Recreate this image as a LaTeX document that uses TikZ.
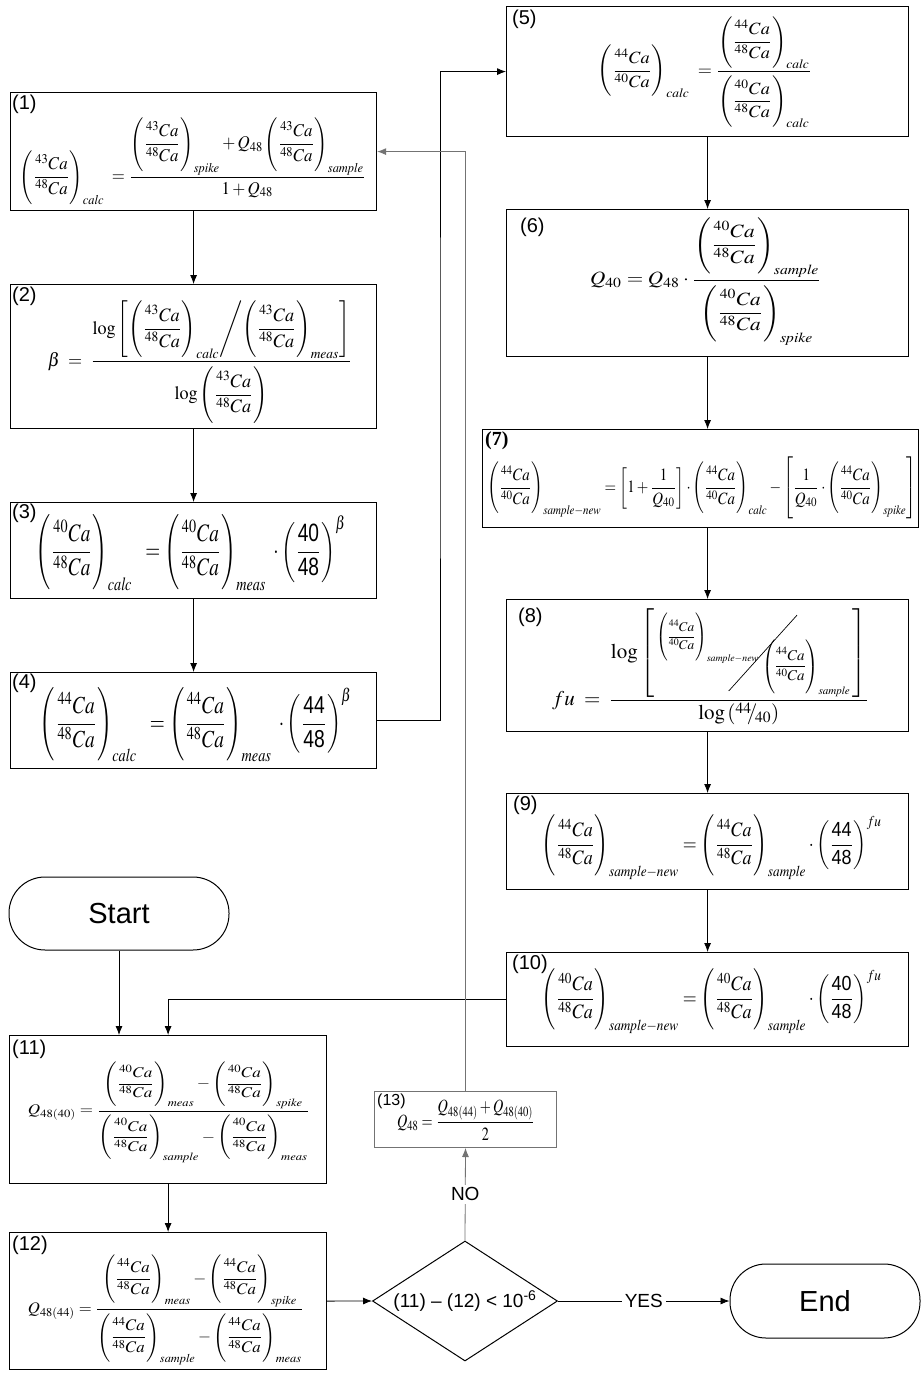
\RequirePackage{fix-cm}
\documentclass[tikz,border=0pt]{standalone}
\usepackage{amsmath,amssymb,graphicx}
\usepackage{mathptmx}
\usepackage[no-math]{fontspec}
\setmainfont{Liberation Sans}
\newfontfamily\serifl{Liberation Serif}
\usetikzlibrary{shapes.geometric,arrows.meta}
\newcommand\rat[2]{\left(\dfrac{\rule{0pt}{2.3ex}{}^{#1}Ca}{{}^{#2}Ca\rule[-0.6ex]{0pt}{0pt}}\right)}
\newcommand\Ra[3]{\rat{#1}{#2}_{\mathit{#3}}}
\newcommand\snew{\mathit{sample}{-}\mathit{new}}
\newcommand\fm[3]{\resizebox*{#1pt}{#2pt}{$\displaystyle #3$}}
\tikzset{
  box/.style={draw=black, line width=1.2pt, anchor=north west, inner sep=0pt},
  gbox/.style={box, draw=black!55, line width=1pt},
  num/.style={anchor=north west, inner sep=0pt, font=\fontsize{20}{22}\selectfont},
  fml/.style={inner sep=0pt},
  arr/.style={-{Latex[length=9pt,width=7pt]}, line width=0.8pt},
  garr/.style={arr, draw=black!55},
  term/.style={draw, line width=1pt, rounded corners=36pt, font=\fontsize{29}{32}\selectfont},
  lbl/.style={fill=white, inner sep=3pt, font=\fontsize{19}{22}\selectfont},
}
\begin{document}
\begin{tikzpicture}[x=1pt,y=-1pt]
\useasboundingbox (0,0) rectangle (923,1375);
\fill[white] (0,0) rectangle (923,1375);
% boxes
\node[box, minimum width=366pt, minimum height=118pt] (b1) at (10,92) {};
\node[box, minimum width=366pt, minimum height=144pt] (b2) at (10,284) {};
\node[box, minimum width=366pt, minimum height=96pt] (b3) at (10,502) {};
\node[box, minimum width=366pt, minimum height=96pt] (b4) at (10,672) {};
\node[box, minimum width=402pt, minimum height=130pt] (b5) at (506,6) {};
\node[box, minimum width=402pt, minimum height=147pt] (b6) at (506,209) {};
\node[box, minimum width=436pt, minimum height=98pt] (b7) at (482,429) {};
\node[box, minimum width=402pt, minimum height=132pt] (b8) at (506,599) {};
\node[box, minimum width=402pt, minimum height=96pt] (b9) at (506,793) {};
\node[box, minimum width=402pt, minimum height=94pt] (b10) at (506,952) {};
\node[box, minimum width=317pt, minimum height=148pt] (b11) at (9,1035) {};
\node[box, minimum width=317pt, minimum height=137pt] (b12) at (9,1232) {};
\node[gbox, minimum width=182pt, minimum height=56pt] (b13) at (374,1091) {};
\node[term, minimum width=220pt, minimum height=73pt] (start) at (119,913.5) {Start};
\node[term, minimum width=190pt, minimum height=74pt] (end) at (825,1301) {End};
\node[draw, diamond, line width=1pt, minimum width=185pt, minimum height=120pt, inner sep=0pt] (dia) at (465,1301) {};
\node[font=\fontsize{19}{22}\selectfont, inner sep=0pt] (dtx) at (dia.center) {(11) – (12) < 10\textsuperscript{-6}};
% labels
\node[num] (l1) at (12,95) {(1)};
\node[num] (l2) at (12,287) {(2)};
\node[num] (l3) at (12,504) {(3)};
\node[num] (l4) at (12,674) {(4)};
\node[num] (l5) at (512,10) {(5)};
\node[num] (l6) at (520,218) {(6)};
\node[num, font=\fontsize{20}{22}\serifl\bfseries] (l7) at (485,431) {(7)};
\node[num] (l8) at (518,608) {(8)};
\node[num] (l9) at (513,796) {(9)};
\node[num] (l10) at (512,955) {(10)};
\node[num] (l11) at (12,1040) {(11)};
\node[num] (l12) at (12,1236) {(12)};
\node[num, font=\fontsize{16}{18}\selectfont] (l13) at (377,1094) {(13)};
% formulas
\node[fml] (f1) at (193,160) {\fm{346}{90}{\Ra{43}{48}{calc}\;=\dfrac{\Ra{43}{48}{spike}+Q_{48}\Ra{43}{48}{sample}}{1+Q_{48}}}};
\node[fml] (f2) at (200,361) {\fm{304}{125}{\beta\;=\;\dfrac{\log\left[\Ra{43}{48}{calc}\middle/\Ra{43}{48}{meas}\right]}{\log\rat{43}{48}}}};
\node[fml] (f3) at (191,551) {\fm{310}{80}{\Ra{40}{48}{calc}\;\;=\Ra{40}{48}{meas}\;\cdot\left(\dfrac{\text{40}}{\text{48}}\right)^{\beta}}};
\node[fml] (f4) at (196,723) {\fm{312}{78}{\Ra{44}{48}{calc}\;\;=\Ra{44}{48}{meas}\;\cdot\left(\dfrac{\text{44}}{\text{48}}\right)^{\beta}}};
\node[fml] (f5) at (705,71) {\fm{214}{114}{\Ra{44}{40}{calc}\;=\dfrac{\Ra{44}{48}{calc}}{\Ra{40}{48}{calc}}}};
\node[fml] (f6) at (706,280) {\fm{232}{130}{Q_{40}=Q_{48}\cdot\dfrac{\Ra{40}{48}{sample}}{\Ra{40}{48}{spike}}}};
\node[fml] (f7) at (702,488) {\fm{429}{62}{\rat{44}{40}_{\snew}=\left[1+\dfrac{1}{Q_{40}}\right]\cdot\Ra{44}{40}{calc}-\left[\dfrac{1}{Q_{40}}\cdot\Ra{44}{40}{spike}\right]}};
\node[fml, font=\fontsize{21}{25}\selectfont] (f8) at (710,667) {$\displaystyle fu\;=\;\dfrac{\log\left[\,\raisebox{15pt}{$\vcenter{\hbox{\resizebox{102pt}{!}{$\displaystyle\rat{44}{40}_{\snew}$}}}$}\hspace{-30pt}\vcenter{\hbox{\rotatebox{48}{\rule{102pt}{0.7pt}}}}\hspace{-35pt}\raisebox{-15pt}{$\vcenter{\hbox{\resizebox{88pt}{!}{$\displaystyle\Ra{44}{40}{sample}$}}}$}\,\right]}{\log\left({}^{44}\!\!/\!{}_{40}\right)}$};
\node[fml] (f9) at (712,846) {\fm{340}{68}{\rat{44}{48}_{\snew}=\Ra{44}{48}{sample}\cdot\left(\dfrac{\text{44}}{\text{48}}\right)^{fu}}};
\node[fml] (f10) at (712,1000) {\fm{340}{68}{\rat{40}{48}_{\snew}=\Ra{40}{48}{sample}\cdot\left(\dfrac{\text{40}}{\text{48}}\right)^{fu}}};
\node[fml] (f11) at (169,1111) {\fm{282}{103}{Q_{48(40)}=\dfrac{\Ra{40}{48}{meas}-\Ra{40}{48}{spike}}{\Ra{40}{48}{sample}-\Ra{40}{48}{meas}}}};
\node[fml] (f12) at (166,1309) {\fm{276}{112}{Q_{48(44)}=\dfrac{\Ra{44}{48}{meas}-\Ra{44}{48}{spike}}{\Ra{44}{48}{sample}-\Ra{44}{48}{meas}}}};
\node[fml] (f13) at (466,1120) {\fm{138}{40}{Q_{48}=\dfrac{Q_{48(44)}+Q_{48(40)}}{2}}};
% connectors
\coordinate (k45) at (440,400);
\draw[arr] (b1.south) -- (b2.north);
\draw[arr] (b2.south) -- (b3.north);
\draw[arr] (b3.south) -- (b4.north);
\draw[arr] (b4.east) -| (k45) |- (b5.west);
\draw[arr] (b5.south) -- (b6.north);
\draw[arr] (b6.south) -- (b6.south |- b7.north);
\draw[arr] (b7.south -| b8.north) -- (b8.north);
\draw[arr] (b8.south) -- (b9.north);
\draw[arr] (b9.south) -- (b10.north);
\draw[arr] (b10.west) -| (b11.north);
\draw[arr] (start.south) -- (start.south |- b11.north);
\draw[arr] (b11.south) -- (b12.north);
\draw[arr] (b12.east) -- (dia.west);
\draw[garr] (dia.north) -- node[lbl, text=black] (no) {NO} (b13.south);
\draw[arr] (dia.east) -- node[lbl] (yes) {YES} (end.west);
\draw[garr] (b13.north) |- (b1.east);
\end{tikzpicture}
\end{document}
